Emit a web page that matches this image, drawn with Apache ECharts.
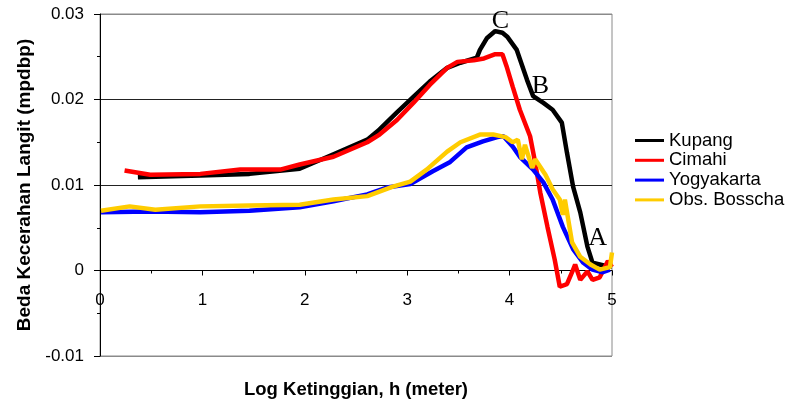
<!DOCTYPE html>
<html>
<head>
<meta charset="utf-8">
<script src="https://cdn.jsdelivr.net/npm/echarts@6/dist/echarts.min.js"></script>
<style>
  html, body { margin: 0; padding: 0; background: #fff; }
  #main { width: 787px; height: 403px; }
</style>
</head>
<body>
<div id="main"></div>
<script>
// data: [log h, beda kecerahan]
const kupang = [
  [0.37, 0.0109], [0.98, 0.0111], [1.46, 0.0113], [1.95, 0.0119], [2.28, 0.0136],
  [2.61, 0.0153], [2.73, 0.0165], [2.90, 0.0185], [3.06, 0.0203], [3.22, 0.0221],
  [3.39, 0.0237], [3.52, 0.0243], [3.68, 0.0249], [3.71, 0.0258], [3.78, 0.0272],
  [3.86, 0.0280], [3.93, 0.0278], [3.98, 0.0273], [4.07, 0.0258], [4.17, 0.0223],
  [4.23, 0.0204], [4.33, 0.0196], [4.42, 0.0188], [4.51, 0.0173], [4.56, 0.0138],
  [4.62, 0.0098], [4.69, 0.0068], [4.76, 0.0028], [4.81, 0.0009], [4.95, 0.0005],
  [5.0, 0.0005]
];
const cimahi = [
  [0.24, 0.0117], [0.49, 0.0112], [0.98, 0.0113], [1.37, 0.0118], [1.76, 0.0118],
  [1.95, 0.0124], [2.28, 0.0133], [2.61, 0.0150], [2.73, 0.0159], [2.90, 0.0176],
  [3.06, 0.0196], [3.22, 0.0217], [3.39, 0.0237], [3.49, 0.0244], [3.65, 0.0246],
  [3.75, 0.0248], [3.86, 0.0253], [3.93, 0.0253], [3.97, 0.0239], [4.03, 0.0215],
  [4.10, 0.0188], [4.20, 0.0157], [4.25, 0.0126], [4.30, 0.0091], [4.37, 0.0051],
  [4.44, 0.0013], [4.49, -0.0019], [4.56, -0.0016], [4.61, -0.0002], [4.64, 0.0007],
  [4.69, -0.0011], [4.76, -0.0001], [4.81, -0.0011], [4.88, -0.0008], [4.96, 0.0011],
  [5.0, 0.0004]
];
const yogyakarta = [
  [0.01, 0.0068], [0.49, 0.0069], [0.98, 0.0068], [1.46, 0.0070], [1.95, 0.0074],
  [2.28, 0.0081], [2.61, 0.0089], [2.80, 0.0097], [3.03, 0.0101], [3.25, 0.0116],
  [3.42, 0.0127], [3.58, 0.0144], [3.74, 0.0151], [3.88, 0.0156], [3.94, 0.0157],
  [4.03, 0.0145], [4.10, 0.0133], [4.23, 0.0118], [4.33, 0.0103], [4.42, 0.0083],
  [4.52, 0.0051], [4.62, 0.0025], [4.72, 0.0009], [4.81, 0.0001], [4.91, -0.0002],
  [4.98, 0.0001]
];
const bosscha = [
  [0.01, 0.0070], [0.29, 0.0075], [0.54, 0.0071], [0.98, 0.0075], [1.46, 0.0076],
  [1.95, 0.0077], [2.28, 0.0083], [2.61, 0.0087], [2.86, 0.0098], [3.03, 0.0104],
  [3.19, 0.0118], [3.39, 0.0139], [3.52, 0.0150], [3.71, 0.0159], [3.84, 0.0159],
  [3.96, 0.0156], [4.03, 0.0150], [4.08, 0.0153], [4.12, 0.0130], [4.15, 0.0147],
  [4.22, 0.0120], [4.25, 0.0130], [4.35, 0.0112], [4.42, 0.0095], [4.49, 0.0083],
  [4.52, 0.0065], [4.54, 0.0083], [4.61, 0.0033], [4.69, 0.0016], [4.79, 0.0007],
  [4.88, 0.0001], [4.98, 0.0004], [5.0, 0.0021]
];
const seriesNames = ['Kupang', 'Cimahi', 'Yogyakarta', 'Obs. Bosscha'];
const seriesColors = ['#000000', '#ff0000', '#0000ff', '#ffcc00'];
const annotations = [['C', 3.91, 0.0292], ['B', 4.30, 0.0216], ['A', 4.86, 0.0038]];

const chart = echarts.init(document.getElementById('main'));
const allData = [kupang, cimahi, yogyakarta, bosscha];

const series = allData.map((d, i) => ({
  name: seriesNames[i],
  type: 'line',
  data: d,
  showSymbol: false,
  symbol: 'none',
  lineStyle: { width: 4.5, color: seriesColors[i] },
  itemStyle: { color: seriesColors[i] },
  z: 3 + i
}));

series[0].markPoint = {
  symbol: 'circle',
  symbolSize: 0,
  silent: true,
  label: {
    show: true,
    position: 'inside',
    formatter: p => p.name,
    fontFamily: 'Liberation Serif',
    fontSize: 26,
    color: '#000'
  },
  data: annotations.map(a => ({ name: a[0], coord: [a[1], a[2]] }))
};

// plot area: top 14, height 342; y = 0 sits 85.5px above the bottom edge
const gridTop = 14, gridBottom = 47, plotH = 403 - gridTop - gridBottom;
const yMin = -0.01, yMax = 0.03;
const zeroOffset = -plotH * (0 - yMin) / (yMax - yMin);

const option = {
  animation: false,
  backgroundColor: '#fff',
  textStyle: { fontFamily: 'Liberation Sans' },
  grid: {
    left: 100, right: 175, top: gridTop, bottom: gridBottom,
    outerBoundsMode: 'none',
    containLabel: false,
    show: true, borderColor: '#8a8a8a', borderWidth: 1
  },
  legend: {
    orient: 'vertical',
    left: 630,
    top: 126,
    icon: 'rect',
    itemWidth: 29,
    itemHeight: 3,
    itemGap: 0.8,
    data: seriesNames,
    textStyle: { fontSize: 18.5, color: '#000', fontFamily: 'Liberation Sans' }
  },
  xAxis: {
    type: 'value',
    min: 0, max: 5, interval: 1,
    position: 'bottom',
    offset: zeroOffset,
    name: 'Log Ketinggian, h (meter)',
    nameLocation: 'middle',
    nameGap: 110,
    nameTextStyle: { fontSize: 18.5, fontWeight: 'bold', color: '#000' },
    axisLine: { onZero: false, lineStyle: { color: '#000', width: 1 } },
    axisTick: { show: true, length: 5, lineStyle: { color: '#000' } },
    minorTick: { show: true, splitNumber: 2, length: 3, lineStyle: { color: '#000' } },
    axisLabel: { fontSize: 17, color: '#000', margin: 21 },
    splitLine: { show: false }
  },
  yAxis: {
    type: 'value',
    min: yMin, max: yMax, interval: 0.01,
    name: 'Beda Kecerahan Langit (mpdbp)',
    nameLocation: 'middle',
    nameRotate: 90,
    nameGap: 66,
    nameTextStyle: { fontSize: 19, fontWeight: 'bold', color: '#000' },
    axisLine: { show: true, lineStyle: { color: '#000', width: 1 } },
    axisTick: { show: true, length: 6, lineStyle: { color: '#000' } },
    minorTick: { show: true, splitNumber: 2, length: 3, lineStyle: { color: '#000' } },
    axisLabel: {
      fontSize: 17, color: '#000', margin: 16,
      formatter: v => String(Math.round(v * 100) / 100)
    },
    splitLine: {
      show: true,
      lineStyle: { color: ['#8a8a8a', '#000', '#222', '#222', '#8a8a8a'], width: 1 }
    }
  },
  series: series
};

chart.setOption(option);
</script>
</body>
</html>
